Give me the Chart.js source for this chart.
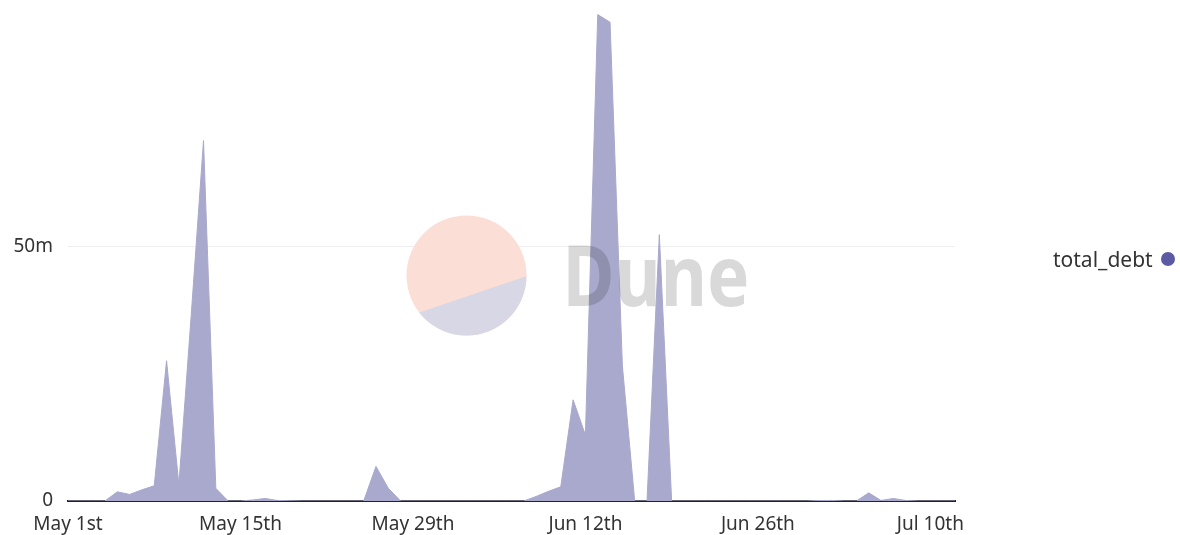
<!DOCTYPE html>
<html>
<head>
<meta charset="utf-8">
<script src="https://cdn.jsdelivr.net/npm/chart.js@4/dist/chart.umd.min.js"></script>
<style>
  html, body { margin: 0; padding: 0; background: #fff; }
  #wrap { position: relative; width: 1180px; height: 535px; }
  #legend {
    position: absolute; left: 1053px; top: 245px;
    font: 21px "Noto Sans", sans-serif; color: #333;
    display: flex; align-items: center; white-space: nowrap;
  }
  #legend .dot {
    display: inline-block; width: 14px; height: 14px; border-radius: 50%;
    background: #5b5ba3; margin-left: 8px;
  }
</style>
</head>
<body>
<div id="wrap">
  <canvas id="chart" width="1180" height="535"></canvas>
  <div id="legend"><span id="legendText"></span><span class="dot"></span></div>
</div>
<script>
// daily total debt, in millions, starting May 1st
const seriesName = "total_debt";
const totalDebt = [
  0, 0, 0, 0, 1.8, 1.3, 2.2, 3.0, 27.6, 3.2,
  36.5, 70.9, 2.5, 0, 0, 0.2, 0.5, 0.1, 0.05, 0,
  0, 0, 0, 0, 0, 6.8, 2.5, 0, 0, 0,
  0, 0, 0, 0, 0, 0, 0, 0, 0.9, 1.9,
  2.8, 19.9, 13.0, 95.7, 94.2, 26.6, 0, 0, 52.4, 0,
  0, 0, 0, 0, 0, 0, 0, 0, 0, 0,
  0, 0.1, 0.1, 0, 0, 1.6, 0.1, 0.5, 0.1, 0,
  0, 0, 0
];
const startDate = [2022, 4, 1]; // May 1st
const tickLabels = ["May 1st", "May 15th", "May 29th", "Jun 12th", "Jun 26th", "Jul 10th"];
const yTicks = [0, 50];
const yMax = 97;

const monthNames = ["Jan", "Feb", "Mar", "Apr", "May", "Jun", "Jul", "Aug", "Sep", "Oct", "Nov", "Dec"];
function ordinal(n) {
  if (n % 100 >= 11 && n % 100 <= 13) return n + "th";
  return n + (["th", "st", "nd", "rd"][n % 10] || "th");
}
const days = totalDebt.map((_, i) => {
  const d = new Date(startDate[0], startDate[1], startDate[2] + i);
  return monthNames[d.getMonth()] + " " + ordinal(d.getDate());
});

document.getElementById("legendText").textContent = seriesName;

const watermark = {
  id: "watermark",
  afterDatasetsDraw(chart) {
    const { ctx, chartArea } = chart;
    const cx = (chartArea.left + chartArea.right) / 2 - 45;
    const cy = (chartArea.top + chartArea.bottom) / 2 + 21;
    const r = 60;
    ctx.save();
    ctx.beginPath();
    ctx.arc(cx, cy, r, 0, Math.PI * 2);
    ctx.fillStyle = "rgb(251, 222, 214)";
    ctx.fill();
    ctx.clip();
    ctx.beginPath();
    ctx.moveTo(cx - 80, cy + 48);
    ctx.lineTo(cx + 80, cy - 6);
    ctx.lineTo(cx + 80, cy + 80);
    ctx.lineTo(cx - 80, cy + 80);
    ctx.closePath();
    ctx.fillStyle = "rgb(215, 215, 230)";
    ctx.fill();
    ctx.restore();

    ctx.save();
    ctx.font = "bold 84px 'Noto Sans', sans-serif";
    ctx.fillStyle = "rgba(0, 0, 0, 0.15)";
    ctx.textBaseline = "alphabetic";
    ctx.fillText("Dune", cx + 96, cy + 30, 187);
    ctx.restore();
  }
};

new Chart(document.getElementById("chart"), {
  type: "line",
  data: {
    labels: days,
    datasets: [{
      label: seriesName,
      data: totalDebt,
      fill: "origin",
      backgroundColor: "rgb(169, 169, 205)",
      borderColor: "rgb(169, 169, 205)",
      borderWidth: 1,
      pointRadius: 0,
      tension: 0
    }]
  },
  options: {
    responsive: false,
    animation: false,
    layout: { padding: { top: 8, right: 225, left: 0, bottom: 0 } },
    plugins: {
      legend: { display: false },
      tooltip: { enabled: false }
    },
    scales: {
      x: {
        offset: false,
        grid: { display: false, drawTicks: false },
        border: { display: true, color: "#222", width: 2 },
        ticks: {
          autoSkip: false,
          maxRotation: 0,
          padding: 12,
          color: "#333",
          font: { family: "'Noto Sans', sans-serif", size: 19 },
          callback(value) {
            const label = this.getLabelForValue(value);
            return tickLabels.includes(label) ? label : null;
          }
        },
        afterFit(scale) { scale.height = 34; scale.paddingLeft = 0; scale.paddingRight = 0; }
      },
      y: {
        min: 0,
        max: yMax,
        border: { display: false },
        grid: {
          drawTicks: false,
          color: (c) => (c.tick && c.tick.value === 0 ? "rgba(0,0,0,0)" : "#eeeeee")
        },
        ticks: {
          padding: 15,
          color: "#333",
          font: { family: "'Noto Sans', sans-serif", size: 19 },
          callback: (v) => (v === 0 ? "0" : v + "m")
        },
        afterBuildTicks(scale) { scale.ticks = yTicks.map((v) => ({ value: v })); },
        afterFit(scale) { scale.width = 68; scale.paddingTop = 0; scale.paddingBottom = 0; }
      }
    }
  },
  plugins: [watermark]
});
</script>
</body>
</html>
